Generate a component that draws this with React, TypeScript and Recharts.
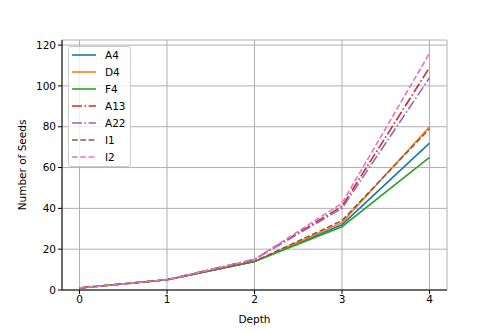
import { LineChart, Line, XAxis, YAxis, CartesianGrid, Legend } from "recharts";

const depths = [0, 1, 2, 3, 4];
const A4 = [1, 5, 14, 32, 72];
const D4 = [1, 5, 14, 33, 80];
const F4 = [1, 5, 14, 31, 65];
const A13 = [1, 5, 15, 41, 109];
const A22 = [1, 5, 15, 40, 104];
const I1 = [1, 5, 14, 34, 79];
const I2 = [1, 5, 15, 42.5, 116];

const yTicks = [0, 20, 40, 60, 80, 100, 120];

const DASHED = "5.8 2.5";
const DASHDOT = "10 2.5 1.6 2.5";

const series = [
  { key: "A4", values: A4, color: "#1f77b4", dash: undefined },
  { key: "D4", values: D4, color: "#ff7f0e", dash: undefined },
  { key: "F4", values: F4, color: "#2ca02c", dash: undefined },
  { key: "A13", values: A13, color: "#d62728", dash: DASHDOT },
  { key: "A22", values: A22, color: "#9467bd", dash: DASHDOT },
  { key: "I1", values: I1, color: "#8c564b", dash: DASHED },
  { key: "I2", values: I2, color: "#e377c2", dash: DASHED },
];

const data = depths.map((d, i) => {
  const row: Record<string, number> = { depth: d };
  series.forEach((s) => (row[s.key] = s.values[i]));
  return row;
});

const font = "'DejaVu Sans', sans-serif";
const tickStyle = { fill: "#000", fontSize: 10.5, fontFamily: font };

const LegendBox = () => (
  <div
    style={{
      background: "rgba(255,255,255,0.8)",
      border: "1px solid #cccccc",
      borderRadius: 3,
      width: 63,
      height: 121,
      boxSizing: "border-box",
      paddingTop: 0,
      textAlign: "left",
    }}
  >
    {series.map((s) => (
      <div key={s.key} style={{ display: "flex", alignItems: "center", height: 16.9 }}>
        <svg width={26} height={6} style={{ marginLeft: 3, display: "block" }}>
          <line x1={0} y1={3} x2={24} y2={3} stroke={s.color} strokeWidth={1.6} strokeDasharray={s.dash} />
        </svg>
        <span style={{ fontFamily: font, fontSize: 10.5, color: "#000", marginLeft: 7, lineHeight: 1 }}>{s.key}</span>
      </div>
    ))}
  </div>
);

export default function App() {
  return (
    <div style={{ position: "absolute", left: 0, top: 0, width: 498, height: 332, background: "#fff" }}>
      <LineChart width={498} height={332} data={data} margin={{ top: 40, right: 51, bottom: 0, left: 0 }}>
        <CartesianGrid stroke="#b0b0b0" strokeWidth={1} />
        <XAxis
          dataKey="depth"
          type="number"
          domain={[-0.2, 4.2]}
          ticks={depths}
          height={42}
          tick={tickStyle}
          tickSize={4}
          tickMargin={2}
          stroke="#000"
          label={{ value: "Depth", position: "center", dy: 8, style: { fontFamily: font, fontSize: 10.5, fill: "#000" } }}
        />
        <XAxis xAxisId="top" orientation="top" dataKey="depth" type="number" domain={[-0.2, 4.2]} height={0} tick={false} tickLine={false} stroke="#000" />
        <YAxis
          type="number"
          domain={[0, 122.5]}
          ticks={yTicks}
          width={62}
          tick={tickStyle}
          tickSize={4}
          tickMargin={2}
          stroke="#000"
          label={{ value: "Number of Seeds", angle: -90, position: "center", dx: -9, style: { fontFamily: font, fontSize: 10.5, fill: "#000" } }}
        />
        <YAxis yAxisId="right" orientation="right" domain={[0, 122.5]} width={0} tick={false} tickLine={false} stroke="#000" />
        {series.map((s) => (
          <Line
            key={s.key}
            type="linear"
            dataKey={s.key}
            stroke={s.color}
            strokeWidth={1.6}
            strokeDasharray={s.dash}
            dot={false}
            isAnimationActive={false}
          />
        ))}
        <Legend
          layout="vertical"
          align="center"
          verticalAlign="middle"
          content={<LegendBox />}
          wrapperStyle={{ position: "absolute", left: 68, top: 46, width: "auto", height: "auto" }}
        />
      </LineChart>
    </div>
  );
}
